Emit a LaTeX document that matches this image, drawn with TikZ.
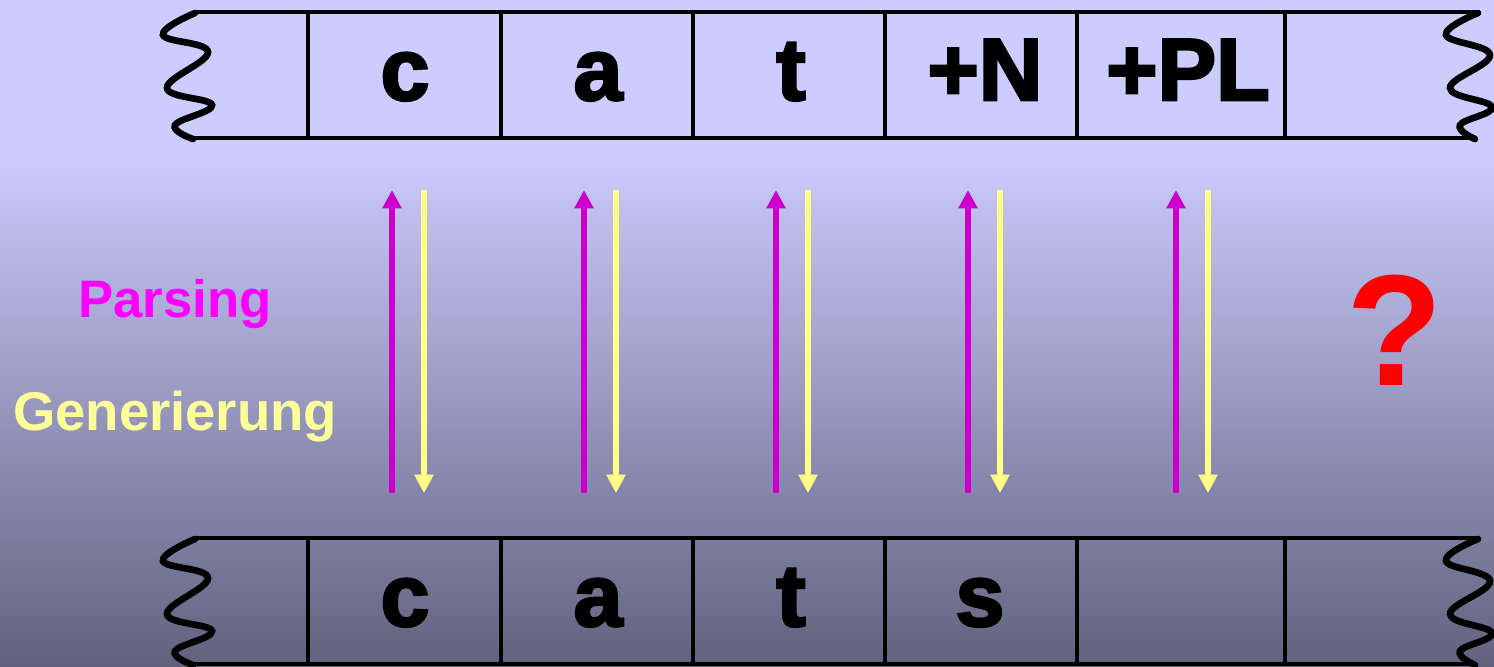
\documentclass[tikz,border=0pt]{standalone}
\usepackage{fontspec}
\setmainfont{Liberation Sans}
\newfontfamily\heavyfont[FakeBold=3]{Liberation Sans Bold}
\usetikzlibrary{arrows.meta}

\definecolor{bgtop}{HTML}{CCCCFF}
\definecolor{bgmid}{HTML}{A4A4CF}
\definecolor{bgbot}{HTML}{62627E}
\definecolor{parsecol}{HTML}{CC00CC}
\definecolor{gencol}{HTML}{FFFF88}
\definecolor{parsetext}{HTML}{FF00FF}
\definecolor{gentext}{HTML}{FFFF99}

\tikzset{
  tape/.style={line width=1.1pt},
  wave/.style={line width=1.9pt, line cap=round},
  letter/.style={font=\heavyfont\fontsize{25}{30}\selectfont, inner sep=0pt, anchor=base},
  label/.style={font=\bfseries\fontsize{15}{18}\selectfont, inner sep=0pt, anchor=base},
  parse/.style={draw=parsecol, line width=1.7pt, -{Triangle[width=5.2pt,length=5.2pt]}},
  gen/.style={draw=gencol, line width=1.7pt, -{Triangle[width=5.2pt,length=5.2pt]}}
}

\begin{document}
\begin{tikzpicture}
\useasboundingbox (0,0) rectangle (14.94,6.66);

% background
\fill[bgtop] (0,5.16) rectangle (14.94,6.66);
\shade[top color=bgtop, middle color=bgmid, bottom color=bgbot] (0,0) rectangle (14.94,5.16);

% tapes
\foreach \y/\t in {0/upper,-5.26/lower} {
  \begin{scope}[yshift=\y cm]
  \draw[tape] (1.95,6.54) -- (14.78,6.54);
  \draw[tape] (1.93,5.28) -- (14.75,5.28);
  \foreach \x in {3.08,5.01,6.93,8.85,10.77,12.85}
    \draw[tape] (\x,5.28) -- (\x,6.54);
  \draw[wave] plot[smooth, tension=0.7] coordinates {(1.95,6.53) (1.63,6.31) (2.08,6.14) (1.67,5.78) (2.12,5.61) (1.75,5.41) (1.93,5.27)};
  \draw[wave] plot[smooth, tension=0.7] coordinates {(14.78,6.53) (14.46,6.31) (14.90,6.11) (14.50,5.78) (14.92,5.59) (14.60,5.41) (14.75,5.27)};
  \end{scope}
}

% upper tape
\node[letter] (tc) at (4.05,5.66) {c};
\node[letter] (ta) at (5.98,5.66) {a};
\node[letter] (tt) at (7.91,5.66) {t};
\node[letter] (tn) at (9.85,5.66) {+N};
\node[letter] (tpl) at (11.88,5.66) {+PL};

% lower tape
\node[letter] (bc) at (4.05,0.40) {c};
\node[letter] (ba) at (5.98,0.40) {a};
\node[letter] (bt) at (7.91,0.40) {t};
\node[letter] (bs) at (9.80,0.40) {s};

% arrows
\foreach \x [count=\i] in {3.92,5.84,7.76,9.68,11.76} {
  \coordinate (pb\i) at (\x,1.73);
  \coordinate (pt\i) at (\x,4.76);
  \coordinate (gt\i) at (\x+0.32,4.76);
  \coordinate (gb\i) at (\x+0.32,1.73);
  \draw[parse] (pb\i) -- (pt\i);
  \draw[gen] (gt\i) -- (gb\i);
}

\node[label, text=parsetext] (parsing) at (1.75,3.49) {Parsing};
\node[label, text=gentext, font=\bfseries\fontsize{15.5}{18}\selectfont] (generierung) at (1.75,2.36) {Generierung};
\node[font=\bfseries\fontsize{45}{50}\selectfont, text=red, inner sep=0pt, anchor=base] (quest) at (13.95,2.81) {?};
\end{tikzpicture}
\end{document}
